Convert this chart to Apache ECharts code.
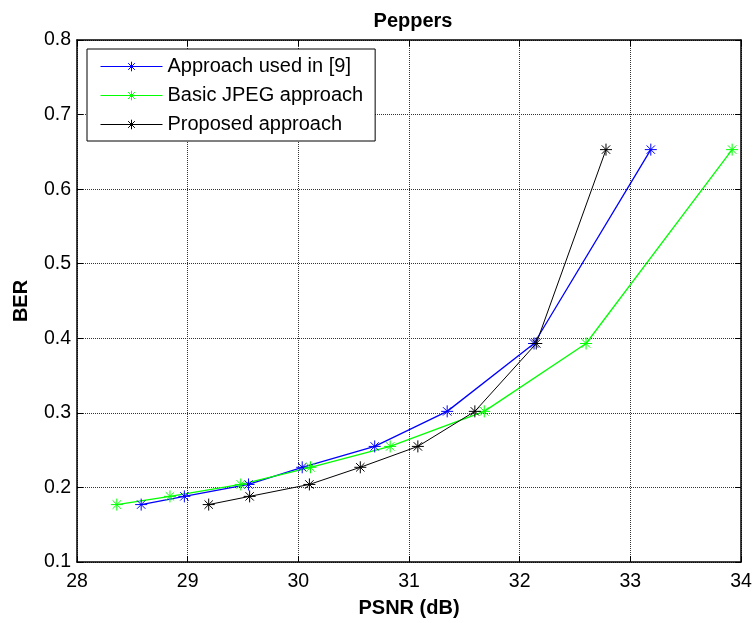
<!DOCTYPE html>
<html>
<head>
<meta charset="utf-8">
<script src="https://cdn.jsdelivr.net/npm/echarts@6/dist/echarts.min.js"></script>
<style>
  html, body { margin: 0; padding: 0; background: #fff; }
  #chart { width: 755px; height: 623px; }
</style>
</head>
<body>
<div id="chart"></div>
<script>
// values
const berLevels = [0.177, 0.188, 0.204, 0.227, 0.255, 0.302, 0.393, 0.653];
const psnrRef9 = [28.58, 28.97, 29.55, 30.035, 30.69, 31.345, 32.13, 33.185];
const psnrJpeg = [28.36, 28.84, 29.48, 30.11, 30.83, 31.68, 32.60, 33.92];
const psnrProposed = [29.19, 29.56, 30.10, 30.56, 31.08, 31.595, 32.15, 32.78];
const seriesNames = ["Approach used in [9]", "Basic JPEG approach", "Proposed approach"];
const xTicks = [28, 29, 30, 31, 32, 33, 34];
const yTicks = [0.1, 0.2, 0.3, 0.4, 0.5, 0.6, 0.7, 0.8];

const star = "path://M0,-1L0,1M-1,0L1,0M-0.7,-0.7L0.7,0.7M-0.7,0.7L0.7,-0.7";
const font = "Liberation Sans, Arial, sans-serif";

const pairs = (xs) => xs.map((x, i) => [x, berLevels[i]]);

const makeSeries = (name, xs, color, width) => ({
  name: name,
  type: "line",
  data: pairs(xs),
  symbol: star,
  symbolSize: 12,
  showSymbol: true,
  lineStyle: { color: color, width: width },
  itemStyle: { color: color, borderColor: color, borderWidth: 1 },
  emphasis: { disabled: true },
  animation: false
});

const chart = echarts.init(document.querySelector("#chart"));

const baseX = {
  type: "value",
  min: xTicks[0],
  max: xTicks[xTicks.length - 1],
  interval: 1,
  axisLine: { show: true, onZero: false, lineStyle: { color: "#000", width: 1.5 } },
  axisTick: { show: true, inside: true, length: 6, lineStyle: { color: "#000" } }
};
const baseY = {
  type: "value",
  min: yTicks[0],
  max: yTicks[yTicks.length - 1],
  interval: 0.1,
  axisLine: { show: true, onZero: false, lineStyle: { color: "#000", width: 1.5 } },
  axisTick: { show: true, inside: true, length: 6, lineStyle: { color: "#000" } }
};

chart.setOption({
  backgroundColor: "#fff",
  animation: false,
  title: {
    text: "Peppers",
    left: 408,
    top: 6,
    textAlign: "center",
    textStyle: { fontFamily: font, fontSize: 20, fontWeight: "bold", color: "#000" }
  },
  grid: { left: 77, right: 14, top: 40, bottom: 58.5, containLabel: false },
  legend: {
    orient: "vertical",
    left: 87,
    top: 49,
    padding: [3, 12, 2, 13],
    itemGap: 0,
    itemWidth: 62,
    itemHeight: 12,
    borderColor: "#000",
    borderWidth: 1,
    backgroundColor: "#fff",
    selectedMode: false,
    data: seriesNames,
    lineStyle: { width: 1 },
    itemStyle: { borderWidth: 1 },
    textStyle: { fontFamily: font, fontSize: 20, color: "#000", lineHeight: 29 }
  },
  xAxis: [
    Object.assign({}, baseX, {
      position: "bottom",
      name: "PSNR (dB)",
      nameLocation: "middle",
      nameGap: 36,
      nameTextStyle: { fontFamily: font, fontSize: 20, fontWeight: "bold", color: "#000" },
      axisLabel: { show: true, margin: 10, fontFamily: font, fontSize: 19.5, color: "#000" },
      splitLine: { show: true, lineStyle: { color: "#333", type: "dotted", width: 1 } }
    }),
    Object.assign({}, baseX, {
      position: "top",
      axisLabel: { show: false },
      splitLine: { show: false }
    })
  ],
  yAxis: [
    Object.assign({}, baseY, {
      position: "left",
      name: "BER",
      nameLocation: "middle",
      nameGap: 46,
      nameRotate: 90,
      nameTextStyle: { fontFamily: font, fontSize: 20, fontWeight: "bold", color: "#000" },
      axisLabel: {
        show: true, margin: 6, fontFamily: font, fontSize: 19.5, color: "#000",
        formatter: (v) => v.toFixed(1)
      },
      splitLine: { show: true, lineStyle: { color: "#333", type: "dotted", width: 1 } }
    }),
    Object.assign({}, baseY, {
      position: "right",
      axisLabel: { show: false },
      splitLine: { show: false }
    })
  ],
  series: [
    makeSeries(seriesNames[0], psnrRef9, "#0000ff", 1.3),
    makeSeries(seriesNames[1], psnrJpeg, "#00ff00", 1.3),
    makeSeries(seriesNames[2], psnrProposed, "#000000", 1)
  ]
});
</script>
</body>
</html>
